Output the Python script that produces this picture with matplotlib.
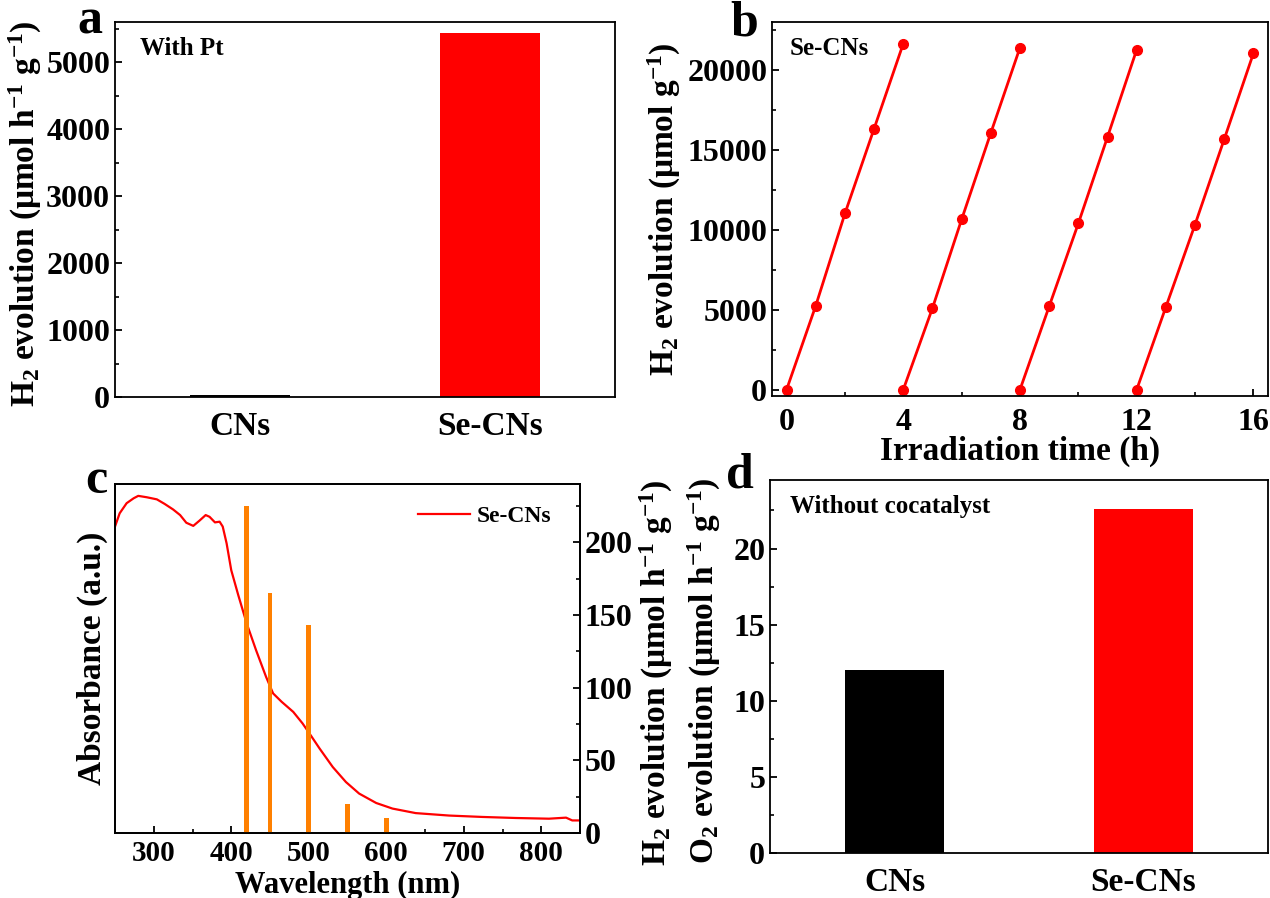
import matplotlib
matplotlib.use('Agg')
import matplotlib.pyplot as plt
from matplotlib.ticker import MultipleLocator, NullLocator

plt.rcParams['font.family'] = 'Liberation Serif'
plt.rcParams['font.weight'] = 'bold'
plt.rcParams['axes.labelweight'] = 'bold'
plt.rcParams['mathtext.fontset'] = 'custom'
plt.rcParams['mathtext.rm'] = 'Liberation Serif:bold'
plt.rcParams['mathtext.it'] = 'Liberation Serif:bold:italic'
plt.rcParams['mathtext.bf'] = 'Liberation Serif:bold'
plt.rcParams['axes.linewidth'] = 1.3
plt.rcParams['xtick.direction'] = 'in'
plt.rcParams['ytick.direction'] = 'in'

# panel a / d bar data
samples = ['CNs', 'Se-CNs']
h2_with_pt = [30, 5430]
o2_without_cocat = [12.0, 22.6]

# panel b cycling data (4 runs of 4 h)
run_starts = [0, 4, 8, 12]
run_hours = [0, 1, 2, 3, 4]
h2_runs = [
    [0, 5250, 11020, 16330, 21650],
    [0, 5100, 10650, 16060, 21400],
    [0, 5210, 10400, 15810, 21270],
    [0, 5170, 10330, 15670, 21040],
]

# panel c absorbance spectrum + monochromatic H2 evolution
wavelength = [250, 256, 265, 274, 280, 291, 304, 314, 325, 334, 342, 351, 359,
              367, 372, 379, 385, 389, 394, 400, 409, 420, 432, 445, 454, 465,
              480, 492, 501, 514, 531, 548, 565, 587, 608, 638, 681, 724, 767,
              810, 832, 840, 850]
absorbance = [0.878, 0.916, 0.945, 0.959, 0.966, 0.962, 0.956, 0.943, 0.927,
              0.911, 0.889, 0.880, 0.895, 0.911, 0.906, 0.890, 0.892, 0.878,
              0.830, 0.753, 0.682, 0.600, 0.524, 0.447, 0.400, 0.376, 0.347,
              0.314, 0.285, 0.242, 0.189, 0.146, 0.113, 0.086, 0.070, 0.057,
              0.050, 0.046, 0.043, 0.041, 0.044, 0.036, 0.036]
mono_wavelength = [420, 450, 500, 550, 600]
mono_h2 = [225, 165, 143, 20, 10]

RED = '#FF0000'
ORANGE = '#FF8000'
TICK_FS = 23
LABEL_FS = 24
NOTE_FS = 18
W, H = 1270, 898

H2_RATE = r'H$_\mathregular{2}$ evolution ($\mathregular{\mu}$mol h$^{\mathregular{-1}}$ g$^{\mathregular{-1}}$)'


def box(l, t, r, b):
    return [l / W, 1 - b / H, (r - l) / W, (b - t) / H]


def style_ticks(ax):
    ax.tick_params(which='major', length=5, width=1.3, labelsize=TICK_FS)
    ax.tick_params(which='minor', length=3, width=1.2)


fig = plt.figure(figsize=(12.7, 8.98), dpi=100)

# ---- a
ax_a = fig.add_axes(box(115, 22, 615, 397))
ax_a.bar([1, 2], h2_with_pt, width=0.4, color=['black', RED])
ax_a.set_xlim(0.5, 2.5)
ax_a.set_ylim(0, 5600)
ax_a.set_xticks([1, 2])
ax_a.set_xticklabels(samples)
ax_a.yaxis.set_major_locator(MultipleLocator(1000))
ax_a.yaxis.set_minor_locator(MultipleLocator(500))
style_ticks(ax_a)
ax_a.tick_params(axis='x', length=0, pad=10, labelsize=LABEL_FS)
ax_a.set_ylabel(H2_RATE, fontsize=LABEL_FS)
ax_a.yaxis.set_label_coords(-0.142, 0.49)
ax_a.text(0.05, 0.93, 'With Pt', transform=ax_a.transAxes, fontsize=NOTE_FS, va='center')

# ---- b
ax_b = fig.add_axes(box(772, 22, 1268, 396))
for start, run in zip(run_starts, h2_runs):
    t = [start + h for h in run_hours]
    ax_b.plot(t, run, color=RED, lw=2, marker='o', ms=7)
ax_b.set_xlim(-0.5, 16.5)
ax_b.set_ylim(-400, 23000)
ax_b.xaxis.set_major_locator(MultipleLocator(4))
ax_b.xaxis.set_minor_locator(MultipleLocator(2))
ax_b.yaxis.set_major_locator(MultipleLocator(5000))
ax_b.yaxis.set_minor_locator(MultipleLocator(2500))
style_ticks(ax_b)
ax_b.tick_params(axis='x', which='major', pad=9)
ax_b.set_xlabel('Irradiation time (h)', fontsize=LABEL_FS)
ax_b.xaxis.set_label_coords(0.5, -0.105)
ax_b.set_ylabel(r'H$_\mathregular{2}$ evolution ($\mathregular{\mu}$mol g$^{\mathregular{-1}}$)',
                fontsize=LABEL_FS)
ax_b.yaxis.set_label_coords(-0.18, 0.5)
ax_b.text(0.035, 0.93, 'Se-CNs', transform=ax_b.transAxes, fontsize=NOTE_FS, va='center')

# ---- c
ax_c = fig.add_axes(box(115, 484, 580, 833))
ax_c.plot(wavelength, absorbance, color=RED, lw=1.6, label='Se-CNs')
ax_c.set_xlim(250, 850)
ax_c.set_ylim(0, 1.0)
ax_c.yaxis.set_major_locator(NullLocator())
ax_c.xaxis.set_major_locator(MultipleLocator(100))
ax_c.xaxis.set_minor_locator(MultipleLocator(50))
style_ticks(ax_c)
ax_c.tick_params(axis='x', which='major', pad=5, labelsize=21)
ax_c.set_xlabel('Wavelength (nm)', fontsize=22)
ax_c.xaxis.set_label_coords(0.5, -0.108)
ax_c.set_ylabel('Absorbance (a.u.)', fontsize=LABEL_FS)
ax_c.yaxis.set_label_coords(-0.015, 0.5)
ax_c.legend(loc='upper right', bbox_to_anchor=(0.985, 1.0), frameon=False,
            fontsize=NOTE_FS - 1, handlelength=2.2, handletextpad=0.3)

ax_c2 = ax_c.twinx()
ax_c2.bar(mono_wavelength, mono_h2, width=6, color=ORANGE)
ax_c2.set_ylim(0, 240)
ax_c2.yaxis.set_major_locator(MultipleLocator(50))
ax_c2.yaxis.set_minor_locator(MultipleLocator(25))
style_ticks(ax_c2)
ax_c2.set_ylabel(H2_RATE, fontsize=LABEL_FS)
ax_c2.yaxis.set_label_coords(1.125, 0.46)

# ---- d
ax_d = fig.add_axes(box(770, 480, 1268, 853))
ax_d.bar([1, 2], o2_without_cocat, width=0.4, color=['black', RED])
ax_d.set_xlim(0.5, 2.5)
ax_d.set_ylim(0, 24.5)
ax_d.set_xticks([1, 2])
ax_d.set_xticklabels(samples)
ax_d.yaxis.set_major_locator(MultipleLocator(5))
ax_d.yaxis.set_minor_locator(MultipleLocator(2.5))
style_ticks(ax_d)
ax_d.tick_params(axis='x', length=0, pad=10, labelsize=LABEL_FS)
ax_d.set_ylabel(H2_RATE.replace('H$', 'O$'), fontsize=LABEL_FS)
ax_d.yaxis.set_label_coords(-0.094, 0.49)
ax_d.text(0.04, 0.93, 'Without cocatalyst', transform=ax_d.transAxes,
          fontsize=NOTE_FS, va='center')

# panel letters
for letter, x, y in [('a', 90, 33), ('b', 744, 35), ('c', 96, 493), ('d', 740, 487)]:
    fig.text(x / W, 1 - y / H, letter, fontsize=36, fontweight='bold',
             ha='center', va='baseline')

fig.savefig('out.png', dpi=100)
